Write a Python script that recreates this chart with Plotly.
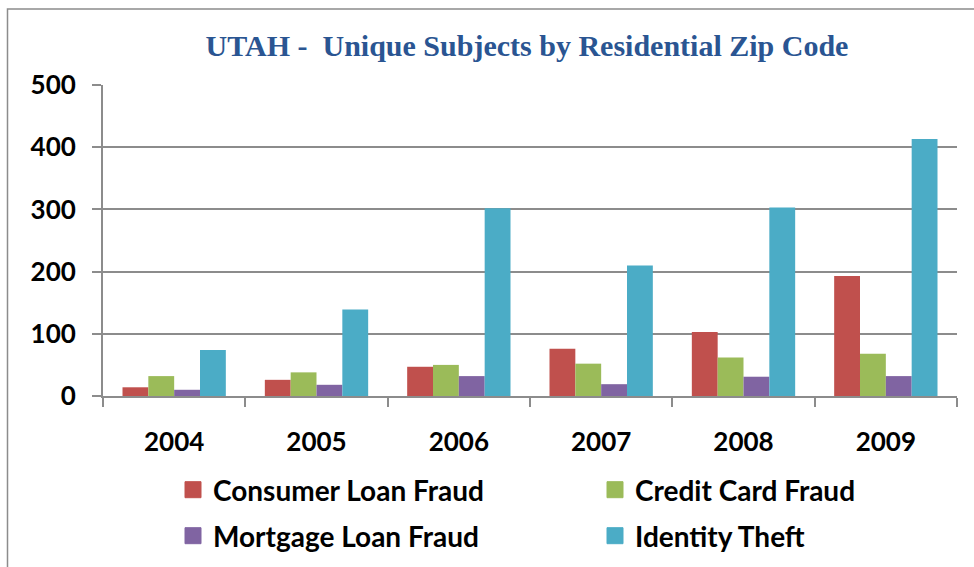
import plotly.graph_objects as go

years = ["2004", "2005", "2006", "2007", "2008", "2009"]
consumer_loan = [14, 26, 47, 76, 103, 193]
credit_card = [32, 38, 50, 52, 62, 68]
mortgage_loan = [10, 18, 32, 19, 31, 32]
identity_theft = [74, 139, 302, 210, 303, 413]

series_names = ["Consumer Loan Fraud", "Credit Card Fraud", "Mortgage Loan Fraud", "Identity Theft"]
series_values = [consumer_loan, credit_card, mortgage_loan, identity_theft]
colors = ["#C0504D", "#9BBB59", "#8064A2", "#4BACC6"]
legend_ids = ["legend", "legend2", "legend3", "legend4"]

y_ticks = [0, 100, 200, 300, 400, 500]

fig = go.Figure()
for name, vals, col in zip(series_names, series_values, colors):
    fig.add_trace(go.Bar(x=years, y=vals, name=name, marker=dict(color=col, line=dict(width=0)),
                         showlegend=False))
# legend entries
for name, col, lg in zip(series_names, colors, legend_ids):
    fig.add_trace(go.Scatter(x=[None], y=[None], mode="markers", name=name,
                             marker=dict(symbol="square", size=16, color=col,
                                         line=dict(width=1, color=col)),
                             legend=lg, showlegend=True))

W, H = 974, 567
L, R, T, B = 103, 17, 85, 171
pw = W - L - R
ph = H - T - B

def px_x(x):
    return (x - L) / pw

def px_y(y):
    return (H - B - y) / ph

legend_font = dict(family="Lato", size=28, color="black", weight="bold")

def legend_at(xpix, ypix):
    return dict(orientation="h", x=px_x(xpix), xanchor="left", y=px_y(ypix), yanchor="middle",
                font=legend_font, bgcolor="rgba(0,0,0,0)", borderwidth=0,
                itemclick=False, itemdoubleclick=False)

bx0, by0 = px_x(7.5), px_y(620)
bx1, by1 = px_x(1000), px_y(9)
border_path = f"M {bx0} {by0} L {bx0} {by1} L {bx1} {by1}"

fig.update_layout(
    width=W, height=H,
    margin=dict(l=L, r=R, t=T, b=B, autoexpand=False),
    paper_bgcolor="white", plot_bgcolor="white",
    barmode="group", bargap=0.274, bargroupgap=0,
    title=dict(text="UTAH -  Unique Subjects by Residential Zip Code",
               x=527 / W, xref="container", xanchor="center",
               y=1 - 45 / H, yref="container", yanchor="middle",
               font=dict(family="Liberation Serif", size=30, color="#2A5592", weight="bold")),
    font=dict(family="Lato", color="black"),
    xaxis=dict(type="category", showgrid=False, showline=True, linecolor="#8C8C8C", linewidth=2,
               ticks="outside", tickson="boundaries", ticklen=9, tickcolor="#8C8C8C", tickwidth=2,
               tickfont=dict(family="Lato", size=26, color="black", weight="bold"),
               ticklabelstandoff=22),
    yaxis=dict(range=[0, 500], tickvals=y_ticks, showgrid=True, gridcolor="#8C8C8C", gridwidth=2,
               showline=True, linecolor="#8C8C8C", linewidth=2, zeroline=False,
               ticks="outside", ticklen=9, tickcolor="#8C8C8C", tickwidth=2,
               tickfont=dict(family="Lato", size=26, color="black", weight="bold"),
               ticklabelstandoff=11),
    legend=legend_at(173, 490),
    legend2=legend_at(595, 490),
    legend3=legend_at(173, 536),
    legend4=legend_at(595, 536),
    shapes=[dict(type="path", xref="paper", yref="paper", path=border_path,
                 line=dict(color="#8C8C8C", width=1.5), layer="below")],
)

fig.write_html("out.html", config={"displayModeBar": False},
               post_script="document.body.style.margin='0';document.body.style.overflow='hidden';")
